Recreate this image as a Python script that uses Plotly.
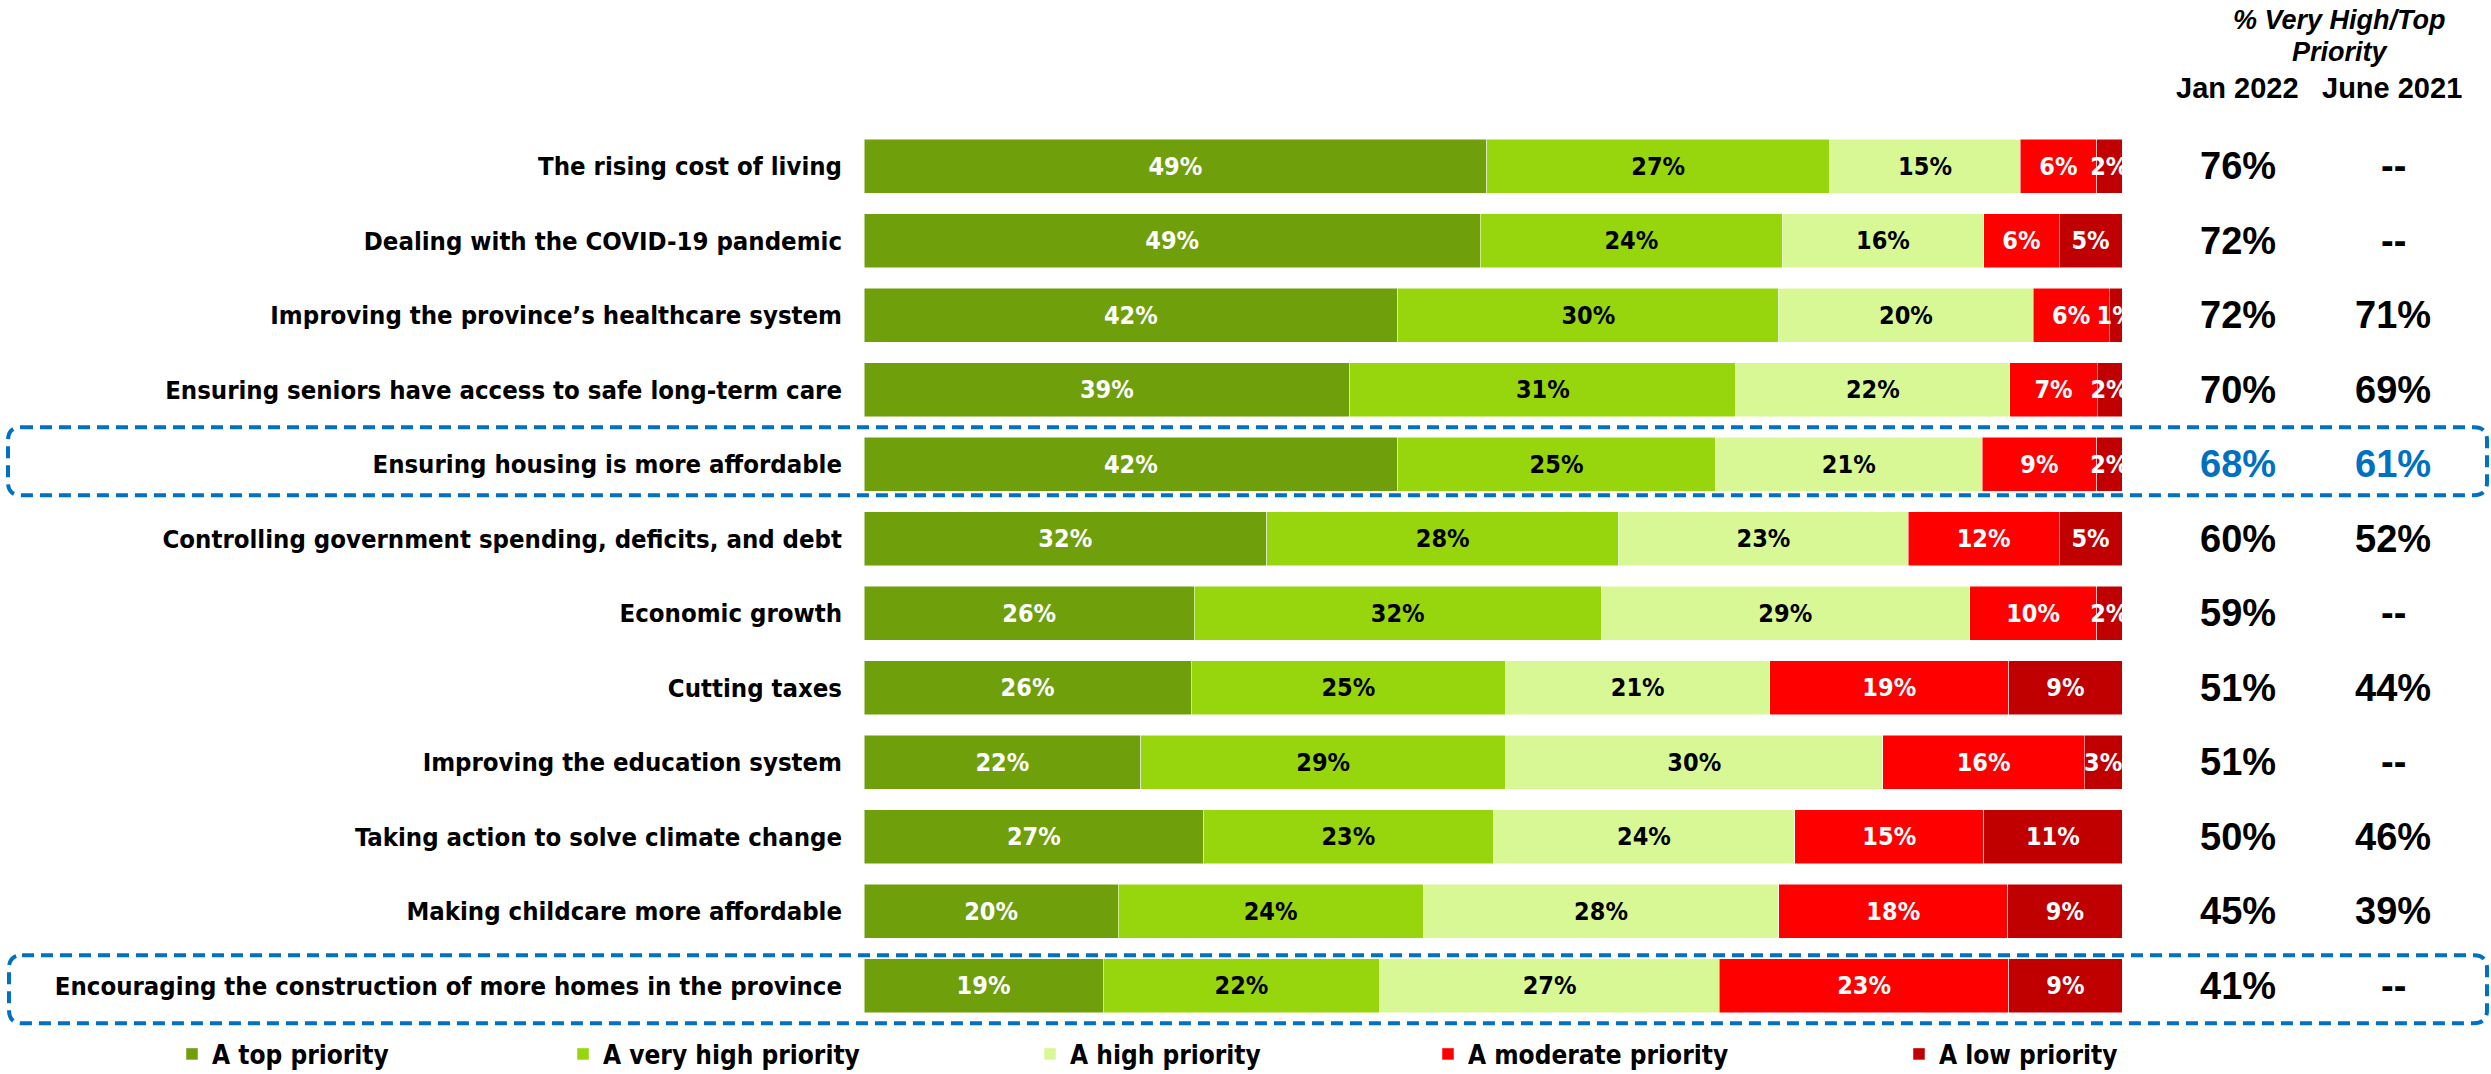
import plotly.graph_objects as go

categories = [
    "The rising cost of living",
    "Dealing with the COVID-19 pandemic",
    "Improving the province\u2019s healthcare system",
    "Ensuring seniors have access to safe long-term care",
    "Ensuring housing is more affordable",
    "Controlling government spending, deficits, and debt",
    "Economic growth",
    "Cutting taxes",
    "Improving the education system",
    "Taking action to solve climate change",
    "Making childcare more affordable",
    "Encouraging the construction of more homes in the province",
]
series_names = ["A top priority", "A very high priority", "A high priority",
                "A moderate priority", "A low priority"]
top_priority = [49, 49, 42, 39, 42, 32, 26, 26, 22, 27, 20, 19]
very_high = [27, 24, 30, 31, 25, 28, 32, 25, 29, 23, 24, 22]
high = [15, 16, 20, 22, 21, 23, 29, 21, 30, 24, 28, 27]
moderate = [6, 6, 6, 7, 9, 12, 10, 19, 16, 15, 18, 23]
low = [2, 5, 1, 2, 2, 5, 2, 9, 3, 11, 9, 9]
jan_2022 = ["76%", "72%", "72%", "70%", "68%", "60%", "59%", "51%", "51%", "50%", "45%", "41%"]
june_2021 = ["--", "--", "71%", "69%", "61%", "52%", "--", "44%", "--", "46%", "39%", "--"]

colors = ["#6F9F0A", "#97D60C", "#D8F896", "#FF0000", "#C00000"]
text_colors = ["white", "black", "black", "white", "white"]

W, H = 2491, 1074
L, R, T, B = 864, 2122, 128.75, 1022.75
COND = "DejaVu Sans Condensed, sans-serif"
WIDE = "Liberation Sans, Arial, sans-serif"
legend_symbol_x = [190, 581, 1048, 1446, 1917]

def px(x):
    return (x - L) / (R - L)

def py(y):
    return (B - y) / (B - T)

fig = go.Figure()
legend_ids = ["legend", "legend2", "legend3", "legend4", "legend5"]
for name, vals, c, tc, lg in zip(series_names, [top_priority, very_high, high, moderate, low],
                                 colors, text_colors, legend_ids):
    fig.add_trace(go.Bar(
        y=categories, x=vals, name=name, orientation="h", legend=lg,
        marker=dict(color=c, line=dict(width=0.5, color="white")),
        text=[f"{v}%" for v in vals], textposition="inside", textangle=0,
        insidetextanchor="middle", constraintext="none",
        textfont=dict(family=COND, size=25, color=tc, weight=700),
        hoverinfo="skip",
    ))

annotations = []
for i, cat in enumerate(categories):
    col = "#0070C0" if i == 4 else "black"
    annotations.append(dict(x=px(2238), xref="paper", y=cat, yref="y", text=jan_2022[i],
                            xanchor="center", showarrow=False,
                            font=dict(family=WIDE, size=38, color=col, weight=700)))
    annotations.append(dict(x=px(2393), xref="paper", y=cat, yref="y", text=june_2021[i],
                            xanchor="center", showarrow=False,
                            font=dict(family=WIDE, size=38, color=col, weight=700)))

annotations += [
    dict(x=px(2339), xref="paper", y=py(20), yref="paper", text="<i>% Very High/Top</i>",
         xanchor="center", yanchor="middle", showarrow=False,
         font=dict(family=WIDE, size=27, color="black", weight=700)),
    dict(x=px(2340), xref="paper", y=py(52), yref="paper", text="<i>Priority</i>",
         xanchor="center", yanchor="middle", showarrow=False,
         font=dict(family=WIDE, size=27, color="black", weight=700)),
    dict(x=px(2237), xref="paper", y=py(88), yref="paper", text="Jan 2022",
         xanchor="center", yanchor="middle", showarrow=False,
         font=dict(family=WIDE, size=29, color="black", weight=700)),
    dict(x=px(2392), xref="paper", y=py(88), yref="paper", text="June 2021",
         xanchor="center", yanchor="middle", showarrow=False,
         font=dict(family=WIDE, size=29, color="black", weight=700)),
]

def rounded_box(x0, y0, x1, y1, r=13):
    a, b = px(x0), px(x1)
    c, d = py(y1), py(y0)  # bottom, top in paper
    rx = r / (R - L)
    ry = r / (B - T)
    return (f"M{a+rx},{d} L{b-rx},{d} Q{b},{d} {b},{d-ry} L{b},{c+ry} Q{b},{c} {b-rx},{c} "
            f"L{a+rx},{c} Q{a},{c} {a},{c+ry} L{a},{d-ry} Q{a},{d} {a+rx},{d} Z")

boxes = [(8, 427, 2487, 495), (9, 955, 2487, 1023)]
shapes = [dict(type="path", xref="paper", yref="paper", path=rounded_box(*bx),
               line=dict(color="#0070C0", width=4, dash="12px,7px"), layer="above")
          for bx in boxes]

legend_layout = {}
for lg, sx in zip(legend_ids, legend_symbol_x):
    legend_layout[lg] = dict(
        orientation="h", xref="container", yref="container",
        x=(sx - 18) / W, xanchor="left", y=(H - 1054) / H, yanchor="middle",
        bgcolor="rgba(0,0,0,0)",
        font=dict(family=COND, size=26, color="black", weight=700),
    )

fig.update_layout(
    width=W, height=H, barmode="stack", barnorm="percent", bargap=0.275,
    plot_bgcolor="white", paper_bgcolor="white",
    margin=dict(l=L, r=W - R, t=T, b=H - B, autoexpand=False),
    xaxis=dict(visible=False, range=[0, 100], fixedrange=True),
    yaxis=dict(autorange="reversed", showgrid=False, showline=False, zeroline=False,
               ticks="", ticklabelstandoff=21, automargin=False,
               tickfont=dict(family=COND, size=25.5, color="black", weight=700)),
    annotations=annotations, shapes=shapes, showlegend=True,
    **legend_layout,
)
fig.write_html("out.html", config={"displayModeBar": False},
               post_script="document.body.style.margin='0';")
